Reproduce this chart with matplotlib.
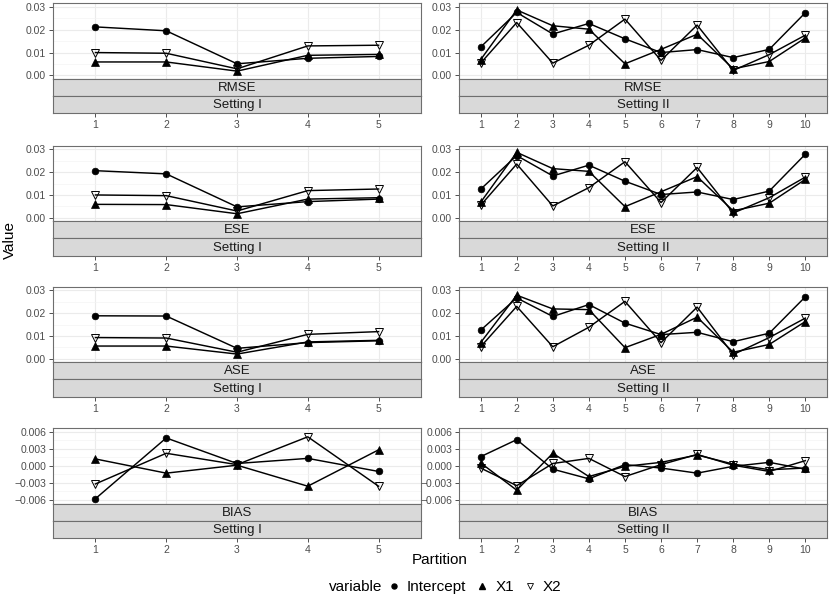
import matplotlib
matplotlib.use("Agg")
import matplotlib.pyplot as plt
from matplotlib.lines import Line2D

plt.rcParams['font.family'] = ['Liberation Sans', 'DejaVu Sans']

# ---------------- data ----------------
partitions_I = [1, 2, 3, 4, 5]
partitions_II = [1, 2, 3, 4, 5, 6, 7, 8, 9, 10]
variables = ["Intercept", "X1", "X2"]
metrics = ["RMSE", "ESE", "ASE", "BIAS"]
settings = ["Setting I", "Setting II"]

rmse_I_intercept = [0.0212, 0.0195, 0.0051, 0.0075, 0.0083]
rmse_I_x1 = [0.0059, 0.0059, 0.0019, 0.0088, 0.0092]
rmse_I_x2 = [0.0100, 0.0097, 0.0029, 0.0129, 0.0132]
rmse_II_intercept = [0.0124, 0.0275, 0.0181, 0.0227, 0.0160, 0.0100, 0.0113, 0.0078, 0.0114, 0.0274]
rmse_II_x1 = [0.0069, 0.0286, 0.0217, 0.0202, 0.0051, 0.0114, 0.0180, 0.0029, 0.0061, 0.0164]
rmse_II_x2 = [0.0054, 0.0231, 0.0054, 0.0132, 0.0246, 0.0066, 0.0220, 0.0022, 0.0091, 0.0176]

ese_I_intercept = [0.0206, 0.0192, 0.0048, 0.0071, 0.0082]
ese_I_x1 = [0.0059, 0.0058, 0.0018, 0.0082, 0.0088]
ese_I_x2 = [0.0100, 0.0097, 0.0030, 0.0119, 0.0126]
ese_II_intercept = [0.0125, 0.0272, 0.0183, 0.0230, 0.0160, 0.0102, 0.0113, 0.0080, 0.0117, 0.0278]
ese_II_x1 = [0.0068, 0.0286, 0.0215, 0.0203, 0.0049, 0.0114, 0.0180, 0.0031, 0.0064, 0.0168]
ese_II_x2 = [0.0055, 0.0235, 0.0052, 0.0132, 0.0245, 0.0067, 0.0220, 0.0021, 0.0088, 0.0178]

ase_I_intercept = [0.0188, 0.0187, 0.0046, 0.0071, 0.0079]
ase_I_x1 = [0.0056, 0.0056, 0.0021, 0.0074, 0.0081]
ase_I_x2 = [0.0093, 0.0091, 0.0029, 0.0107, 0.0119]
ase_II_intercept = [0.0125, 0.0266, 0.0185, 0.0237, 0.0156, 0.0106, 0.0116, 0.0075, 0.0112, 0.0271]
ase_II_x1 = [0.0071, 0.0278, 0.0218, 0.0215, 0.0049, 0.0107, 0.0182, 0.0029, 0.0063, 0.0163]
ase_II_x2 = [0.0053, 0.0229, 0.0053, 0.0138, 0.0251, 0.0071, 0.0226, 0.0019, 0.0093, 0.0178]

bias_I_intercept = [-0.0058, 0.0049, 0.0004, 0.0013, -0.0010]
bias_I_x1 = [0.0012, -0.0013, 0.0001, -0.0036, 0.0028]
bias_I_x2 = [-0.0032, 0.0022, 0.0002, 0.0051, -0.0036]
bias_II_intercept = [0.0016, 0.0046, -0.0006, -0.0023, 0.0002, -0.0004, -0.0013, -0.0001, 0.0006, -0.0006]
bias_II_x1 = [0.0005, -0.0043, 0.0022, -0.0019, -0.0001, 0.0006, 0.0019, 0.0003, -0.0007, -0.0004]
bias_II_x2 = [-0.0004, -0.0035, 0.0004, 0.0013, -0.0019, 0.0002, 0.0020, 0.0001, -0.0010, 0.0009]

se_ticks = [0.00, 0.01, 0.02, 0.03]
se_tick_labels = ["0.00", "0.01", "0.02", "0.03"]
bias_ticks = [-0.006, -0.003, 0.0, 0.003, 0.006]
bias_tick_labels = ["\u22120.006", "\u22120.003", "0.000", "0.003", "0.006"]

data = {
    ("RMSE", 0): [rmse_I_intercept, rmse_I_x1, rmse_I_x2],
    ("RMSE", 1): [rmse_II_intercept, rmse_II_x1, rmse_II_x2],
    ("ESE", 0): [ese_I_intercept, ese_I_x1, ese_I_x2],
    ("ESE", 1): [ese_II_intercept, ese_II_x1, ese_II_x2],
    ("ASE", 0): [ase_I_intercept, ase_I_x1, ase_I_x2],
    ("ASE", 1): [ase_II_intercept, ase_II_x1, ase_II_x2],
    ("BIAS", 0): [bias_I_intercept, bias_I_x1, bias_I_x2],
    ("BIAS", 1): [bias_II_intercept, bias_II_x1, bias_II_x2],
}

# ---------------- style ----------------
W, H = 830, 600
fig = plt.figure(figsize=(W / 100, H / 100), dpi=100)
fig.patch.set_facecolor("white")

def px_axes(x0, y0, w, h):
    return fig.add_axes([x0 / W, 1 - (y0 + h) / H, w / W, h / H])

marker_styles = [
    dict(marker="o", markersize=4.8, markerfacecolor="black", markeredgecolor="black", markeredgewidth=0.5),
    dict(marker="^", markersize=5.2, markerfacecolor="black", markeredgecolor="black", markeredgewidth=0.5),
    dict(marker="v", markersize=5.6, markerfacecolor="none", markeredgecolor="black", markeredgewidth=0.7),
]

border_col = "#6e6e6e"
strip_fill = "#D9D9D9"
tick_col = "#4D4D4D"

col_x = [53, 459]
col_w = 368
row_tops = [3.3, 145.7, 286.7, 428.3]
ph = 75.5
sh = 17.2

for r, metric in enumerate(metrics):
    for c, setting in enumerate(settings):
        parts = partitions_I if c == 0 else partitions_II
        x0 = col_x[c]
        top = row_tops[r]
        ax = px_axes(x0, top, col_w, ph)
        ax.set_facecolor("white")
        ax.set_axisbelow(True)
        series = data[(metric, c)]
        for vals in series:
            ax.plot(parts, vals, color="black", linewidth=1.05, zorder=2)
        for vals, ms in zip(series, marker_styles):
            ax.plot(parts, vals, linestyle="none", zorder=3, **ms)
        ax.set_xlim(0.4, len(parts) + 0.6)
        if metric == "BIAS":
            ax.set_ylim(-0.0067, 0.0066)
            ax.set_yticks(bias_ticks)
            ax.set_yticklabels(bias_tick_labels)
            ax.set_yticks([-0.0045, -0.0015, 0.0015, 0.0045], minor=True)
        else:
            ax.set_ylim(-0.00145, 0.0315)
            ax.set_yticks(se_ticks)
            ax.set_yticklabels(se_tick_labels)
            ax.set_yticks([0.005, 0.015, 0.025], minor=True)
        ax.set_xticks(parts)
        ax.tick_params(axis="x", length=0, labelbottom=False)
        ax.tick_params(axis="y", which="major", length=3.2, width=0.6, color="#333333",
                       labelsize=7.5, labelcolor=tick_col, pad=1.8)
        ax.tick_params(axis="y", which="minor", length=0)
        ax.grid(True, which="major", color="#EBEBEB", linewidth=0.8)
        ax.grid(True, which="minor", axis="y", color="#F3F3F3", linewidth=0.45)
        for sp in ax.spines.values():
            sp.set_color(border_col)
            sp.set_linewidth(0.8)

        for k, label in enumerate([metric, setting]):
            s = px_axes(x0, top + ph + k * sh, col_w, sh)
            s.set_facecolor(strip_fill)
            s.set_xlim(0.4, len(parts) + 0.6)
            s.set_ylim(0, 1)
            s.set_yticks([])
            for sp in s.spines.values():
                sp.set_color(border_col)
                sp.set_linewidth(0.8)
            s.text(0.5, 0.47, label, transform=s.transAxes, ha="center", va="center",
                   fontsize=9.5, color="#1A1A1A")
            if k == 1:
                s.set_xticks(parts)
                s.set_xticklabels([str(p) for p in parts])
                s.tick_params(axis="x", length=3.2, width=0.6, color="#333333",
                              labelsize=7.5, labelcolor=tick_col, pad=1.8)
            else:
                s.set_xticks([])

fig.text(440 / W, 1 - 560 / H, "Partition", ha="center", va="center", fontsize=11, color="black")
fig.text(10 / W, 1 - 240 / H, "Value", ha="center", va="center", rotation=90, fontsize=11, color="black")

fig.text(382 / W, 1 - 587 / H, "variable", ha="right", va="center", fontsize=11, color="black")
handles = [
    Line2D([], [], linestyle="none", marker="o", markersize=3.6, markerfacecolor="black", markeredgecolor="black"),
    Line2D([], [], linestyle="none", marker="^", markersize=3.8, markerfacecolor="black", markeredgecolor="black"),
    Line2D([], [], linestyle="none", marker="v", markersize=4.2, markerfacecolor="none", markeredgecolor="black", markeredgewidth=0.6),
]
fig.legend(handles, variables, loc="center left", bbox_to_anchor=(387 / W, 1 - 587 / H),
           ncol=3, frameon=False, fontsize=11, handlelength=0.9, handletextpad=0.4,
           columnspacing=0.6, borderpad=0, borderaxespad=0)

fig.savefig("out.png", dpi=100, facecolor="white")
